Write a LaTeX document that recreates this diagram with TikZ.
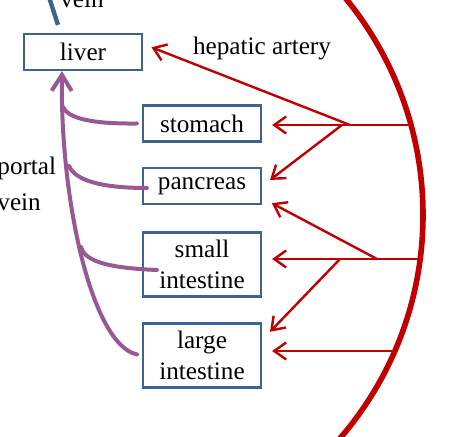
\documentclass[tikz,border=0pt]{standalone}
\usepackage{fontspec}
\setmainfont{Liberation Serif}
\usetikzlibrary{arrows.meta}

\definecolor{artred}{RGB}{192,0,0}
\definecolor{boxblue}{RGB}{63,98,143}
\definecolor{veinpurple}{RGB}{152,88,148}

\begin{document}
\begin{tikzpicture}[x=0.5pt,y=-0.5pt,
  every node/.style={font=\fontsize{12.6}{15.5}\selectfont},
  organ/.style={draw=boxblue,line width=1.1pt,minimum width=59pt,minimum height=18pt,inner ysep=3.8pt,align=center},
  artery/.style={draw=artred,line width=1.2pt,-{Straight Barb[length=6pt,width=8.5pt]}},
  portal/.style={draw=veinpurple,line width=2pt,line cap=round},
  hepvein/.style={draw=boxblue,line width=2.2pt}]
\useasboundingbox (0,0) rectangle (449,437);
\clip (0,0) rectangle (449,437);

\node[organ] (liver) at (83,52) {liver};
\node[organ] (stomach) at (202,123.5) {stomach};
\node[organ] (pancreas) at (202,186) {pancreas};
\node[organ] (smallint) at (202,264.5) {small\\intestine};
\node[organ] (largeint) at (202,355.5) {large\\intestine};

\node[anchor=base] (hvlabel) at (82,8) {vein};
\node[anchor=base] (halabel) at (262,55) {hepatic artery};
\node[anchor=north west,align=left,inner sep=0pt,font=\fontsize{12.6}{18}\selectfont] (pvlabel) at (-3,157) {portal\\vein};

\draw[artred,line width=2.8pt] (81,215) circle [radius=342];

\coordinate (a1) at (411,125);
\coordinate (a2) at (420,259);
\coordinate (a3) at (395,351);
\coordinate (b1) at (350,125);
\coordinate (b2) at (342,125);
\coordinate (b3) at (377,259);
\coordinate (b4) at (340,259);

\draw[artery,shorten >=5pt] (a1) -- (a1 -| stomach.east);
\draw[artery,shorten >=4.5pt] (b1) -- ([yshift=4pt]liver.east);
\draw[artery,shorten >=5pt] (b2) -- (pancreas.east);
\draw[artery,shorten >=5pt] (a2) -- (a2 -| smallint.east);
\draw[artery,shorten >=5.5pt] (b3) -- ([yshift=-6pt]pancreas.east);
\draw[artery,shorten >=5.7pt] (b4) -- ([yshift=7.75pt]largeint.east);
\draw[artery,shorten >=5pt] (a3) -- (a3 -| largeint.east);

\coordinate (j1) at (63,107);
\coordinate (j2) at (69,166);
\coordinate (j3) at (81,247);
\coordinate (hvtop) at (48,-6);

\draw[portal,-{Straight Barb[length=8pt,width=10pt]},shorten <=2.5pt] (largeint.west) .. controls (92,345) and (60,200) .. ([xshift=-10.5pt]liver.south);
\draw[portal] ([xshift=-2.5pt]stomach.west) .. controls (90,124) and (68,118) .. (j1);
\draw[portal] ([xshift=2.5pt,yshift=-1pt]pancreas.west) .. controls (100,188) and (75,180) .. (j2);
\draw[portal] ([xshift=7.5pt,yshift=-2.75pt]smallint.west) .. controls (110,268) and (85,262) .. (j3);

\draw[hepvein] ([xshift=-12.5pt,yshift=4pt]liver.north) -- (hvtop);
\end{tikzpicture}
\end{document}
